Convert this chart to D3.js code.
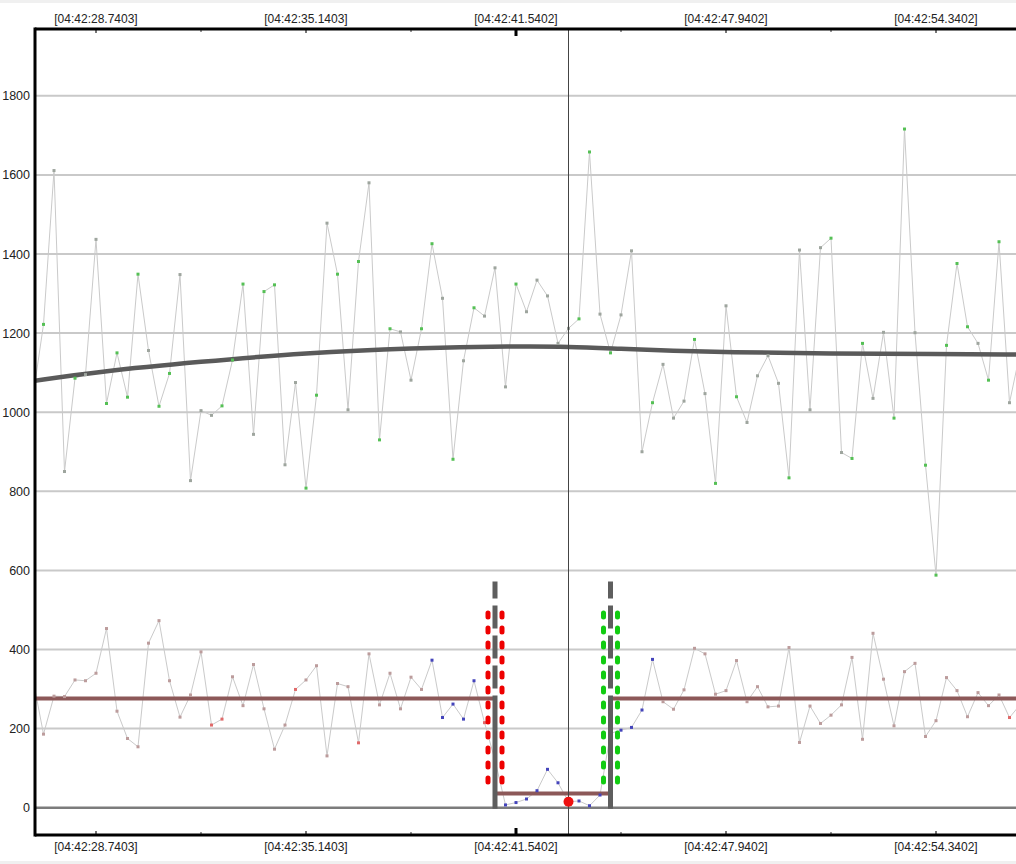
<!DOCTYPE html>
<html><head><meta charset="utf-8">
<script src="https://cdn.jsdelivr.net/npm/d3@7"></script>
<style>
body{margin:0;background:#fff;}
svg{display:block;font-family:"Liberation Sans",Arial,sans-serif;}
</style>
</head><body>
<svg id="c" width="1016" height="864"></svg>
<script>
// ---- data ----
const timeTicks = [28.7403, 35.1403, 41.5402, 47.9402, 54.3402];
const timeLabels = ["[04:42:28.7403]", "[04:42:35.1403]", "[04:42:41.5402]", "[04:42:47.9402]", "[04:42:54.3402]"];
const minorTimes = [31.9403, 38.3403, 44.7402, 51.1402];
const currentTick = 41.5402;
const yTicks = [0, 200, 400, 600, 800, 1000, 1200, 1400, 1600, 1800];
const sampleStart = 26.8203, sampleStep = 0.32;

const upperValues = [1040,1222,1611,850,1086,1095,
 1437,1022,1150,1038,1349,1156,1015,1098,1348,827,
 1004,992,1016,1132,1324,944,1305,1322,867,1075,
 808,1043,1478,1349,1006,1381,1580,930,1211,1203,
 1081,1211,1426,1288,881,1130,1264,1243,1365,1064,
 1324,1254,1334,1294,1174,1212,1236,1658,1248,1150,
 1246,1408,900,1024,1121,985,1028,1184,1047,820,
 1269,1039,974,1092,1143,1073,834,1410,1006,1416,
 1440,898,883,1174,1035,1202,985,1716,1201,866,
 588,1169,1376,1216,1174,1081,1431,1024,1150];
const upperColors = "ngnngn"+"nggggnggnn"+"nngggnggnn"+"ggngngnggn"+"nggngngnnn"+"gnnnnnggng"+"nnngnnngng"+"ngnnnngnnn"+"gnggnnggng"+"ggggnggnn";

const lowerValues = [325,186,282,281,323,321,
 340,453,244,175,154,416,473,321,229,285,
 394,209,224,331,258,362,250,148,209,299,
 323,359,131,314,306,164,389,260,340,250,
 330,299,373,228,262,224,321,215,120,7,
 13,22,43,97,63,15,17,5,32,188,
 196,203,247,375,268,249,298,403,389,287,
 296,372,268,306,255,257,405,165,257,213,
 234,260,380,173,441,325,207,344,365,180,
 220,329,296,230,291,258,285,228,260];
const lowerColors = "nnnnnn"+"nnnnnnnnnn"+"nrrnnnnnnr"+"nnnnnrnnnn"+"nnbbbbbrbb"+"bbbbbbbbbb"+"bbbbnnnnnn"+"nnnnnnnnnn"+"nnnnnnnnnn"+"nnnnnnnrn";

const trendTimes  = [26.8203, 28.7403, 31.9403, 35.1403, 38.3403, 41.5402, 43.1403, 44.7402, 46.3403, 47.9402, 51.1402, 54.3402, 56.9];
const trendValues = [1079, 1102, 1128, 1150, 1162, 1167, 1166, 1160, 1155, 1152, 1148, 1147, 1146];

const gateLeft = 40.9003, gateRight = 44.4203;
const meanTimes  = [26.8, 40.9003, 40.9003, 44.4203, 44.4203, 57];
const meanValues = [276, 276, 36, 36, 276, 276];
const gateTop = 572, gateMean = 280;
const bandTop = 492, bandBottom = 54;
const cursorTime = 43.1403, cursorValue = 15;

// ---- layout ----
const W = 1016, H = 864;
const L = 35, T = 29, B = 835, R = 1016;
const svg = d3.select("#c");
const x = d3.scaleLinear().domain([timeTicks[0], timeTicks[4]]).range([96, 936]);
const y = d3.scaleLinear().domain([0, 1800]).range([807.7, 95.8]);
const colU = {g: "#55c055", n: "#9ea59e"};
const colL = {n: "#bc9c9c", b: "#4444bb", r: "#e06a6a"};

svg.append("rect").attr("x",0).attr("y",0).attr("width",W).attr("height",3).attr("fill","#f0f0f0");
svg.append("rect").attr("x",0).attr("y",861).attr("width",W).attr("height",3).attr("fill","#f0f0f0");

svg.append("defs").append("clipPath").attr("id","clip")
  .append("rect").attr("x",L).attr("y",T).attr("width",R-L).attr("height",B-T);

// grid
const grid = svg.append("g");
grid.selectAll("line").data(yTicks.filter(d=>d>0)).join("line")
  .attr("x1",L).attr("x2",R).attr("y1",d=>y(d)).attr("y2",d=>y(d))
  .attr("stroke","#c9c9c9").attr("stroke-width",2);
grid.append("line").attr("x1",L).attr("x2",R).attr("y1",y(0)).attr("y2",y(0))
  .attr("stroke","#7c7c7c").attr("stroke-width",2.5);

// y labels
svg.append("g").attr("transform",`translate(${L-5},0)`)
  .call(d3.axisLeft(y).tickValues(yTicks).tickFormat(d3.format("d")).tickSize(0).tickPadding(0))
  .call(g=>g.select(".domain").remove())
  .selectAll("text").attr("font-size",12.5).attr("fill","#222").attr("font-family","Liberation Sans, Arial, sans-serif");

const plot = svg.append("g").attr("clip-path","url(#clip)");
const times = upperValues.map((_,i)=>sampleStart + i*sampleStep);

const upper = times.map((t,i)=>({t, v:upperValues[i], c:upperColors[i]}));
const lower = times.map((t,i)=>({t, v:lowerValues[i], c:lowerColors[i]}));
const line = d3.line().x(d=>x(d.t)).y(d=>y(d.v));
plot.append("path").datum(upper).attr("d",line).attr("fill","none").attr("stroke","#cacaca").attr("stroke-width",1);
plot.append("path").datum(lower).attr("d",line).attr("fill","none").attr("stroke","#cacaca").attr("stroke-width",1);

// trend
const trend = trendTimes.map((t,i)=>({t, v:trendValues[i]}));
const smooth = d3.line().x(d=>x(d.t)).y(d=>y(d.v)).curve(d3.curveBasis);
plot.append("path").datum(trend).attr("d",smooth).attr("fill","none")
  .attr("stroke","#5a5a5a").attr("stroke-width",4.5);

plot.append("g").selectAll("rect").data(upper).join("rect")
  .attr("x",d=>x(d.t)-1.5).attr("y",d=>y(d.v)-1.5).attr("width",3).attr("height",3)
  .attr("fill",d=>colU[d.c]);

// mean line
const mean = meanTimes.map((t,i)=>({t, v:meanValues[i]}));
plot.append("path").datum(mean).attr("d",line).attr("fill","none").attr("stroke","#8c5858").attr("stroke-width",4);

plot.append("g").selectAll("rect").data(lower).join("rect")
  .attr("x",d=>x(d.t)-1.5).attr("y",d=>y(d.v)-1.5).attr("width",3).attr("height",3)
  .attr("fill",d=>colL[d.c]);

// red / green dashed bands
[[gateLeft,"#ee0000"],[gateRight,"#11cc11"]].forEach(([t,c])=>{
  [-7,7].forEach(off=>{
    plot.append("line").attr("x1",x(t)+off).attr("x2",x(t)+off)
      .attr("y1",y(bandTop)).attr("y2",y(bandBottom))
      .attr("stroke",c).attr("stroke-width",5).attr("stroke-linecap","round")
      .attr("stroke-dasharray","4,11");
  });
});

// gray gate bars
[gateLeft, gateRight].forEach(t=>{
  plot.append("line").attr("x1",x(t)).attr("x2",x(t)).attr("y1",y(gateTop)).attr("y2",y(gateMean))
    .attr("stroke","#5e5e5e").attr("stroke-width",5).attr("stroke-dasharray","23,7").attr("stroke-dashoffset",6);
  plot.append("line").attr("x1",x(t)).attr("x2",x(t)).attr("y1",y(gateMean)).attr("y2",y(0)+1)
    .attr("stroke","#5e5e5e").attr("stroke-width",5);
});

// cursor
plot.append("line").attr("x1",x(cursorTime)).attr("x2",x(cursorTime)).attr("y1",T).attr("y2",B)
  .attr("stroke","#444").attr("stroke-width",1);
plot.append("circle").attr("cx",x(cursorTime)).attr("cy",y(cursorValue)).attr("r",5).attr("fill","#ee1111");

// time axes ticks
const tickG = svg.append("g");
function ticks(yy, dir){
  timeTicks.forEach(t=>{
    const big = t===currentTick;
    tickG.append("rect").attr("x",x(t)-(big?1.5:1)).attr("width",big?3:2)
      .attr("y", dir>0 ? yy : yy-(big?6:3)).attr("height",big?6:3)
      .attr("fill",big?"#000":"#777");
  });
  minorTimes.forEach(t=>{
    tickG.append("rect").attr("x",x(t)-1).attr("width",2)
      .attr("y", dir>0 ? yy : yy-2).attr("height",2).attr("fill","#999");
  });
}
ticks(T+1, 1); ticks(B-1, -1);

// frame
svg.append("line").attr("x1",L).attr("x2",R).attr("y1",T).attr("y2",T).attr("stroke","#000").attr("stroke-width",3);
svg.append("line").attr("x1",L).attr("x2",R).attr("y1",B).attr("y2",B).attr("stroke","#000").attr("stroke-width",3);
svg.append("line").attr("x1",L).attr("x2",L).attr("y1",T-1.5).attr("y2",B+1.5).attr("stroke","#000").attr("stroke-width",3);

// time labels
const lab = svg.append("g").attr("font-size",12).attr("fill","#222").attr("text-anchor","middle");
timeTicks.forEach((t,i)=>{
  lab.append("text").attr("x",x(t)).attr("y",23).text(timeLabels[i]);
  lab.append("text").attr("x",x(t)).attr("y",851).text(timeLabels[i]);
});
</script>
</body></html>
